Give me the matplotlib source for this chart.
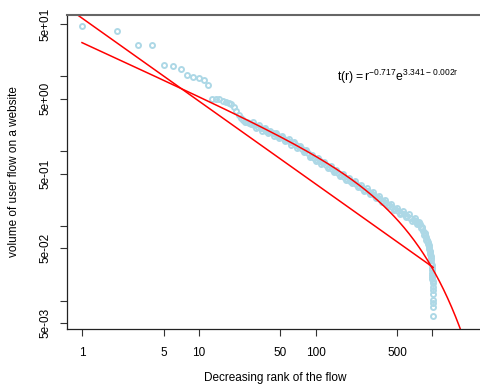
import numpy as np
import matplotlib
matplotlib.use("Agg")
import matplotlib.pyplot as plt

# rank of the flow (decreasing) and its volume
ranks = [1, 2, 3, 4, 5, 6, 7, 8, 9, 10, 11, 12, 13, 14, 15, 16, 17, 18, 19, 20,
         21, 22, 23, 24, 25, 26, 27, 28, 29, 30, 31, 32, 33, 34, 35, 36, 37, 38,
         39, 40, 41, 43, 44, 45, 46, 48, 49, 51, 52, 54, 55, 57, 59, 61, 62, 64,
         66, 68, 70, 72, 74, 77, 79, 81, 83, 86, 89, 92, 94, 97, 100, 103, 106,
         109, 112, 116, 119, 123, 127, 131, 135, 139, 143, 147, 151, 156, 161,
         166, 171, 176, 181, 187, 192, 198, 204, 210, 216, 223, 230, 237, 244,
         251, 259, 267, 275, 283, 291, 300, 309, 319, 328, 338, 348, 359, 370,
         381, 392, 404, 416, 429, 442, 455, 469, 483, 497, 512, 528, 544, 560,
         577, 594, 612, 631, 650, 670, 690, 705, 720, 735, 750, 765, 780, 795,
         810, 822, 835, 847, 860, 870, 880, 890, 900, 907, 915, 922, 930, 937,
         945, 950, 955, 960, 965, 970, 975, 980, 985, 988, 992, 995, 998, 1000,
         1003, 1005, 1006, 1008, 1010, 1011, 1012, 1013, 1014, 1016]
volume = [47.0, 39.9, 26.2, 26.0, 14.1, 13.8, 12.7, 10.4, 9.68, 9.62, 8.91, 7.71,
          4.92, 4.90, 4.89, 4.74, 4.56, 4.39, 4.25, 3.88, 3.43, 3.03, 2.76, 2.60,
          2.48, 2.42, 2.37, 2.33, 2.42, 2.21, 2.03, 2.11, 2.20, 2.03, 1.87, 1.95,
          2.03, 1.87, 1.73, 1.81, 1.88, 1.72, 1.60, 1.68, 1.75, 1.61, 1.49, 1.55,
          1.61, 1.47, 1.35, 1.41, 1.46, 1.33, 1.22, 1.27, 1.32, 1.20, 1.10, 1.14,
          1.17, 1.06, 0.968, 1.00, 1.03, 0.932, 0.843, 0.863, 0.895, 0.818, 0.746,
          0.770, 0.797, 0.728, 0.664, 0.685, 0.709, 0.648, 0.591, 0.611, 0.633,
          0.578, 0.526, 0.542, 0.559, 0.509, 0.463, 0.476, 0.492, 0.449, 0.411,
          0.426, 0.441, 0.403, 0.368, 0.381, 0.395, 0.361, 0.330, 0.341, 0.354,
          0.323, 0.295, 0.305, 0.316, 0.289, 0.264, 0.273, 0.281, 0.256, 0.233,
          0.240, 0.247, 0.225, 0.205, 0.212, 0.219, 0.200, 0.182, 0.188, 0.194,
          0.177, 0.161, 0.166, 0.173, 0.158, 0.145, 0.150, 0.157, 0.144, 0.132,
          0.137, 0.142, 0.129, 0.117, 0.121, 0.126, 0.116, 0.106, 0.110, 0.114,
          0.105, 0.0930, 0.0933, 0.0949, 0.0851, 0.0764, 0.0776, 0.0795, 0.0718,
          0.0645, 0.0655, 0.0630, 0.0606, 0.0579, 0.0553, 0.0520, 0.0489, 0.0463,
          0.0439, 0.0416, 0.0394, 0.0370, 0.0348, 0.0322, 0.0298, 0.0276, 0.0256,
          0.0237, 0.0219, 0.0206, 0.0194, 0.0182, 0.0171, 0.0152, 0.0138, 0.0122,
          0.0102, 0.00926, 0.00818, 0.00620]

# fitted models
dgbd_exp = -0.717
dgbd_const = 3.341
dgbd_slope = -0.002
power_coef = 60.0
power_exp = -1.109

y_ticks = [50, 10, 5, 1, 0.5, 0.1, 0.05, 0.01, 0.005]
y_labels = ["5e+01", "", "5e+00", "", "5e-01", "", "5e-02", "", "5e-03"]
x_ticks = [1, 5, 10, 50, 100, 500, 1000]
x_labels = ["1", "5", "10", "50", "100", "500", ""]

plt.rcParams.update({
    "font.family": ["Liberation Sans", "DejaVu Sans"],
    "mathtext.fontset": "custom",
    "mathtext.rm": "Liberation Sans",
    "mathtext.default": "rm",
})

fig = plt.figure(figsize=(4.8, 3.87), dpi=100)
ax = fig.add_axes([0.139, 0.1506, 0.867, 0.8106])

ax.plot(ranks, volume, "o", mfc="none", mec="#ADD8E6", ms=3.6, mew=1.4)

r_fit = np.logspace(0, 3.45, 400)
ax.plot(r_fit, r_fit ** dgbd_exp * np.exp(dgbd_const + dgbd_slope * r_fit),
        color="#FF0000", lw=1.1)
r_pow = np.logspace(-0.2, np.log10(max(ranks)), 100)
ax.plot(r_pow, power_coef * r_pow ** power_exp, color="#FF0000", lw=1.1)

ax.set_xscale("log")
ax.set_yscale("log")
ax.set_xlim(0.740, 2710)
ax.set_ylim(0.004195, 65.99)

ax.set_xticks(x_ticks)
ax.set_xticklabels(x_labels)
ax.set_yticks(y_ticks)
ax.set_yticklabels(y_labels, rotation=90, va="center")
ax.minorticks_off()
ax.tick_params(axis="both", length=5, width=0.8, color="#333333", labelsize=8.5)
ax.tick_params(axis="x", pad=8)
ax.tick_params(axis="y", pad=6)

for s in ["left", "bottom"]:
    ax.spines[s].set_color("#222222")
    ax.spines[s].set_linewidth(0.9)
ax.spines["top"].set_color("#666666")
ax.spines["top"].set_linewidth(1.5)

fig.text(337 / 480, 1 - 77 / 387, r"$t(r) = r^{-0.717}e^{3.341 - 0.002r}$",
         fontsize=8.8, va="center", ha="left")

ax.set_xlabel("Decreasing rank of the flow", fontsize=8.5)
ax.set_ylabel("volume of user flow on a website", fontsize=8.5)
ax.xaxis.set_label_coords(0.5, -0.1556)
ax.xaxis.label.set_va("center")
ax.yaxis.set_label_coords(-0.1266, 0.5)
ax.yaxis.label.set_va("center")

fig.savefig("out.png", dpi=100)
